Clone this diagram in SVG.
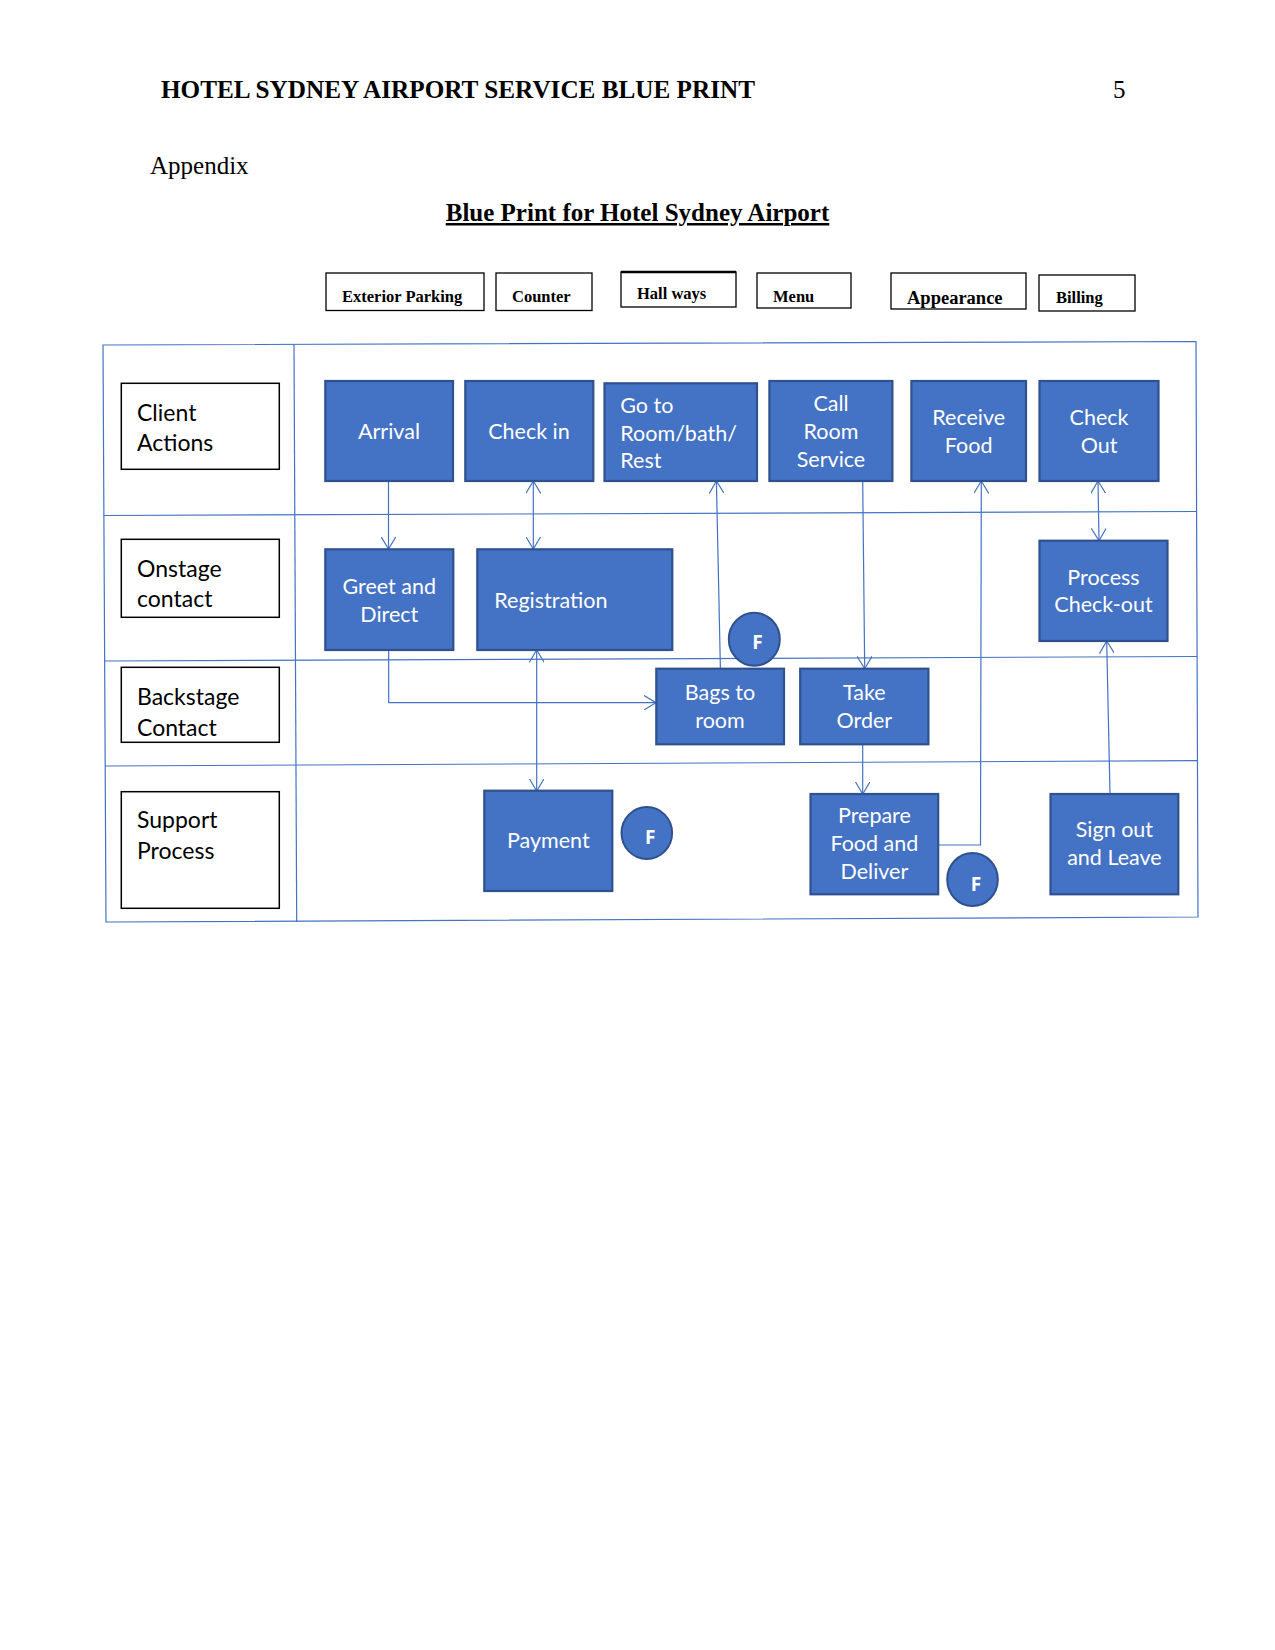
<svg xmlns="http://www.w3.org/2000/svg" width="1275" height="1650" viewBox="0 0 1275 1650">
<defs>
<style>
.serif{font-family:"Liberation Serif","Times New Roman",serif;fill:#000}
.hb{font-family:"Liberation Serif","Times New Roman",serif;font-weight:bold;font-size:16.5px;fill:#000}
.hbox{fill:#fff;stroke:#000;stroke-width:1.3}
.lane{fill:none;stroke:#4472C4;stroke-width:1.2}
.lbl{fill:#fff;stroke:#000;stroke-width:1.5}
.lt{font-family:Lato,"Noto Sans",sans-serif;font-size:23px;fill:#000}
.box{fill:#4472C4;stroke:#2F528F;stroke-width:2.2}
.bt{font-family:Lato,"Noto Sans",sans-serif;font-size:21.5px;fill:#fff;text-anchor:middle}
.btl{font-family:Lato,"Noto Sans",sans-serif;font-size:21.5px;fill:#fff}
.fc{fill:#4472C4;stroke:#2F528F;stroke-width:2}
.ft{font-family:"Open Sans","Noto Sans",sans-serif;font-weight:bold;font-size:19px;fill:#fff;text-anchor:middle}
.cn{fill:none;stroke:#4472C4;stroke-width:1.2}
</style>
<marker id="ah" viewBox="0 0 13 15" refX="12.5" refY="7.5" markerWidth="13" markerHeight="15" markerUnits="userSpaceOnUse" orient="auto-start-reverse">
<path d="M0,0 L12.5,7.5 L0,15" fill="none" stroke="#4472C4" stroke-width="1.2"/>
</marker>
</defs>
<rect width="1275" height="1650" fill="#fff"/>

<g id="header">
<text class="serif" x="161" y="98" font-size="25" font-weight="bold" textLength="594" lengthAdjust="spacingAndGlyphs">HOTEL SYDNEY AIRPORT SERVICE BLUE PRINT</text>
<text class="serif" x="1113" y="98" font-size="25">5</text>
<text class="serif" x="150" y="173.5" font-size="25">Appendix</text>
<text class="serif" x="637.5" y="221" font-size="25" font-weight="bold" text-anchor="middle" text-decoration="underline">Blue Print for Hotel Sydney Airport</text>
</g>

<g id="evidence">
<g id="ev-parking"><rect class="hbox" x="326" y="273" width="158" height="37.5"/><text class="hb" x="342" y="301.5">Exterior Parking</text></g>
<g id="ev-counter"><rect class="hbox" x="496" y="273" width="96" height="37.5"/><text class="hb" x="512" y="301.5">Counter</text></g>
<g id="ev-hallways"><rect class="hbox" x="621" y="272" width="115" height="35"/><line x1="621" y1="272" x2="736" y2="272" stroke="#000" stroke-width="2.6"/><text class="hb" x="637" y="299">Hall ways</text></g>
<g id="ev-menu"><rect class="hbox" x="757" y="273" width="94" height="35"/><text class="hb" x="773" y="301.5">Menu</text></g>
<g id="ev-appearance"><rect class="hbox" x="891" y="273" width="135" height="36"/><text class="hb" x="907" y="303.5" style="font-size:18.5px">Appearance</text></g>
<g id="ev-billing"><rect class="hbox" x="1039" y="275" width="96" height="36"/><text class="hb" x="1056" y="303">Billing</text></g>
</g>

<g id="lanes">
<path class="lane" d="M103,345 L1196,341.5 L1198,917 L106,922 Z"/>
<line class="lane" x1="294" y1="345" x2="296.7" y2="922"/>
<line class="lane" x1="103.5" y1="515.5" x2="1196.5" y2="511.5"/>
<line class="lane" x1="104.5" y1="661" x2="1197" y2="656.5"/>
<line class="lane" x1="105" y1="766" x2="1197.5" y2="760.6"/>
</g>

<g id="lane-labels">
<g id="lbl-client"><rect class="lbl" x="121.3" y="383.3" width="158" height="86"/><text class="lt" x="137" y="420.7">Client</text><text class="lt" x="137" y="450.7">Actions</text></g>
<g id="lbl-onstage"><rect class="lbl" x="121.3" y="539.3" width="158" height="78"/><text class="lt" x="137" y="576.7">Onstage</text><text class="lt" x="137" y="606.7">contact</text></g>
<g id="lbl-backstage"><rect class="lbl" x="121.3" y="667.3" width="158" height="75"/><text class="lt" x="137" y="705">Backstage</text><text class="lt" x="137" y="736">Contact</text></g>
<g id="lbl-support"><rect class="lbl" x="121.3" y="791.7" width="158" height="116.6"/><text class="lt" x="137" y="828.3">Support</text><text class="lt" x="137" y="859">Process</text></g>
</g>

<g id="connectors">
<line class="cn" x1="388.5" y1="481" x2="388.5" y2="549" marker-end="url(#ah)"/>
<line class="cn" x1="533.3" y1="481" x2="533.3" y2="549" marker-start="url(#ah)" marker-end="url(#ah)"/>
<polyline class="cn" points="388.7,650 388.7,702.7 656,702.7" marker-end="url(#ah)"/>
<line class="cn" x1="536.7" y1="650" x2="536.7" y2="791" marker-start="url(#ah)" marker-end="url(#ah)"/>
<line class="cn" x1="720.4" y1="668.7" x2="716.4" y2="481" marker-end="url(#ah)"/>
<line class="cn" x1="862.7" y1="481" x2="864.7" y2="668.7" marker-end="url(#ah)"/>
<line class="cn" x1="862.7" y1="744.3" x2="862.7" y2="794" marker-end="url(#ah)"/>
<polyline class="cn" points="938.2,845 980.5,845 981.3,481" marker-end="url(#ah)"/>
<line class="cn" x1="1098" y1="481" x2="1099" y2="540.7" marker-start="url(#ah)" marker-end="url(#ah)"/>
<line class="cn" x1="1110" y1="794" x2="1106.7" y2="641" marker-end="url(#ah)"/>
</g>

<g id="n-arrival"><rect class="box" x="325.3" y="381" width="127.7" height="100"/><text class="bt" x="389" y="439">Arrival</text></g>
<g id="n-checkin"><rect class="box" x="465.3" y="381" width="128" height="100"/><text class="bt" x="529" y="439">Check in</text></g>
<g id="n-goto"><rect class="box" x="604.5" y="383.3" width="152.5" height="97.7"/><text class="btl" x="620.3" y="412.7">Go to</text><text class="btl" x="620.3" y="441">Room/bath/</text><text class="btl" x="620.3" y="468.3">Rest</text></g>
<g id="n-callroom"><rect class="box" x="769.4" y="381" width="123" height="100"/><text class="bt" x="831" y="411">Call</text><text class="bt" x="831" y="439.3">Room</text><text class="bt" x="831" y="466.7">Service</text></g>
<g id="n-receive"><rect class="box" x="911.4" y="381" width="114.6" height="100"/><text class="bt" x="968.7" y="425">Receive</text><text class="bt" x="968.7" y="452.7">Food</text></g>
<g id="n-checkout"><rect class="box" x="1039.5" y="381" width="119" height="100"/><text class="bt" x="1099" y="425">Check</text><text class="bt" x="1099" y="452.7">Out</text></g>

<g id="n-greet"><rect class="box" x="325.3" y="549.3" width="128" height="100.7"/><text class="bt" x="389.3" y="594.3">Greet and</text><text class="bt" x="389.3" y="622">Direct</text></g>
<g id="n-registration"><rect class="box" x="477.3" y="549.3" width="195" height="100.7"/><text class="btl" x="494.3" y="607.7">Registration</text></g>
<g id="n-processcheckout"><rect class="box" x="1039.5" y="540.7" width="128" height="100.3"/><text class="bt" x="1103.5" y="585">Process</text><text class="bt" x="1103.5" y="611.7">Check-out</text></g>
<g id="f1"><ellipse class="fc" cx="754.3" cy="639.3" rx="25.5" ry="26.5"/><text class="ft" x="757.5" y="649.3">F</text></g>

<g id="n-bags"><rect class="box" x="656.3" y="668.7" width="127.7" height="75.6"/><text class="bt" x="720" y="700">Bags to</text><text class="bt" x="720" y="727.7">room</text></g>
<g id="n-takeorder"><rect class="box" x="800.2" y="668.7" width="128.2" height="75.6"/><text class="bt" x="864.3" y="700">Take</text><text class="bt" x="864.3" y="727.7">Order</text></g>

<g id="n-payment"><rect class="box" x="484.3" y="790.7" width="128" height="100.3"/><text class="bt" x="548.3" y="848.3">Payment</text></g>
<g id="f2"><ellipse class="fc" cx="646.8" cy="833" rx="25.3" ry="26"/><text class="ft" x="650.3" y="843.5">F</text></g>
<g id="n-prepare"><rect class="box" x="810.5" y="794" width="127.7" height="100.3"/><text class="bt" x="874.4" y="823.3">Prepare</text><text class="bt" x="874.4" y="851">Food and</text><text class="bt" x="874.4" y="879">Deliver</text></g>
<g id="f3"><ellipse class="fc" cx="972.5" cy="879.5" rx="25.3" ry="26.5"/><text class="ft" x="976" y="890.6">F</text></g>
<g id="n-signout"><rect class="box" x="1050.5" y="794" width="127.8" height="100.3"/><text class="bt" x="1114.4" y="837.3">Sign out</text><text class="bt" x="1114.4" y="865">and Leave</text></g>
</svg>
